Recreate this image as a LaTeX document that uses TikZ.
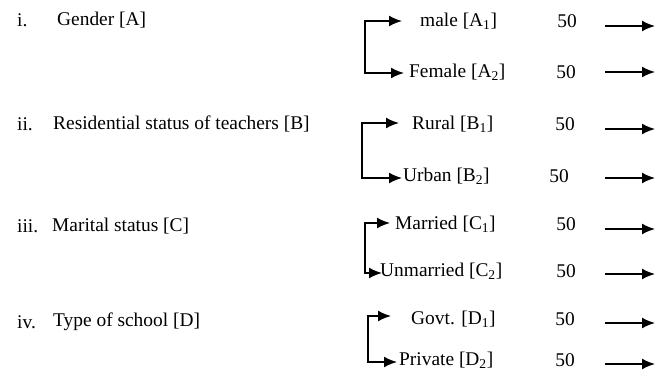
\documentclass[tikz,border=0pt]{standalone}
\usepackage{fontspec}
\setmainfont{Liberation Serif}
\usetikzlibrary{arrows.meta}

\begin{document}
\begin{tikzpicture}[%
        x=1pt, y=-1pt,
        every node/.style={inner sep=0pt, font=\fontsize{19.4}{23}\selectfont},
        lbl/.style={anchor=west},
        cnt/.style={anchor=center},
        brk/.style={{Latex[length=13pt,width=11pt]}-{Latex[length=13pt,width=11pt]}, line width=1.8pt},
        arr/.style={-{Latex[length=13pt,width=11pt]}, line width=1.8pt}
        ]
        \useasboundingbox (0,0) rectangle (664,372);
        % variables
        \node[lbl] (nA) at (17,20)  {i.};
        \node[lbl] (A)  at (57,20)  {Gender [A]};
        \node[lbl] (nB) at (17,124) {ii.};
        \node[lbl] (B)  at (53,124) {Residential status of teachers [B]};
        \node[lbl] (nC) at (17,226) {iii.};
        \node[lbl] (C)  at (52,226) {Marital status [C]};
        \node[lbl] (nD) at (17,322) {iv.};
        \node[lbl] (D)  at (53,322) {Type of school [D]};
        % levels
        \node[lbl] (A1) at (420,21)  {male [A\textsubscript{1}]};
        \node[lbl] (A2) at (409,72)  {Female [A\textsubscript{2}]};
        \node[lbl] (B1) at (412,124) {Rural [B\textsubscript{1}]};
        \node[lbl] (B2) at (403,176) {Urban [B\textsubscript{2}]};
        \node[lbl] (C1) at (395,224) {Married [C\textsubscript{1}]};
        \node[lbl] (C2) at (380,271) {Unmarried [C\textsubscript{2}]};
        \node[lbl] (D1) at (411,319) {Govt. [D\textsubscript{1}]};
        \node[lbl] (D2) at (399,360) {Private [D\textsubscript{2}]};
        % sample sizes
        \node[cnt] (nA1) at (567,21)  {50};
        \node[cnt] (nA2) at (566,72)  {50};
        \node[cnt] (nB1) at (565,124) {50};
        \node[cnt] (nB2) at (559,176) {50};
        \node[cnt] (nC1) at (566,224) {50};
        \node[cnt] (nC2) at (566,271) {50};
        \node[cnt] (nD1) at (565,319) {50};
        \node[cnt] (nD2) at (565,360) {50};
        % brackets
        \coordinate (tA1) at (402,21);  \coordinate (tA2) at (404,73);  \coordinate (cA) at (365,73);
        \coordinate (tB1) at (399,123); \coordinate (tB2) at (402,178); \coordinate (cB) at (362,178);
        \coordinate (tC1) at (390,223); \coordinate (tC2) at (382,273); \coordinate (cC) at (365,273);
        \coordinate (tD1) at (391,316); \coordinate (tD2) at (397,362); \coordinate (cD) at (368,362);
        \draw[brk] (tA1) -| (cA) -- (tA2);
        \draw[brk] (tB1) -| (cB) -- (tB2);
        \draw[brk] (tC1) -| (cC) -- (tC2);
        \draw[brk] (tD1) -| (cD) -- (tD2);
        % outgoing arrows
        \coordinate (oA1) at (605,26);  \coordinate (eA1) at (655,26);
        \coordinate (oA2) at (605,72);  \coordinate (eA2) at (655,72);
        \coordinate (oB1) at (605,129); \coordinate (eB1) at (655,129);
        \coordinate (oB2) at (605,178); \coordinate (eB2) at (655,178);
        \coordinate (oC1) at (605,229); \coordinate (eC1) at (655,229);
        \coordinate (oC2) at (605,274); \coordinate (eC2) at (655,274);
        \coordinate (oD1) at (605,323); \coordinate (eD1) at (655,323);
        \coordinate (oD2) at (605,364); \coordinate (eD2) at (655,364);
        \draw[arr] (oA1) -- (eA1);
        \draw[arr] (oA2) -- (eA2);
        \draw[arr] (oB1) -- (eB1);
        \draw[arr] (oB2) -- (eB2);
        \draw[arr] (oC1) -- (eC1);
        \draw[arr] (oC2) -- (eC2);
        \draw[arr] (oD1) -- (eD1);
        \draw[arr] (oD2) -- (eD2);
\end{tikzpicture}
\end{document}
